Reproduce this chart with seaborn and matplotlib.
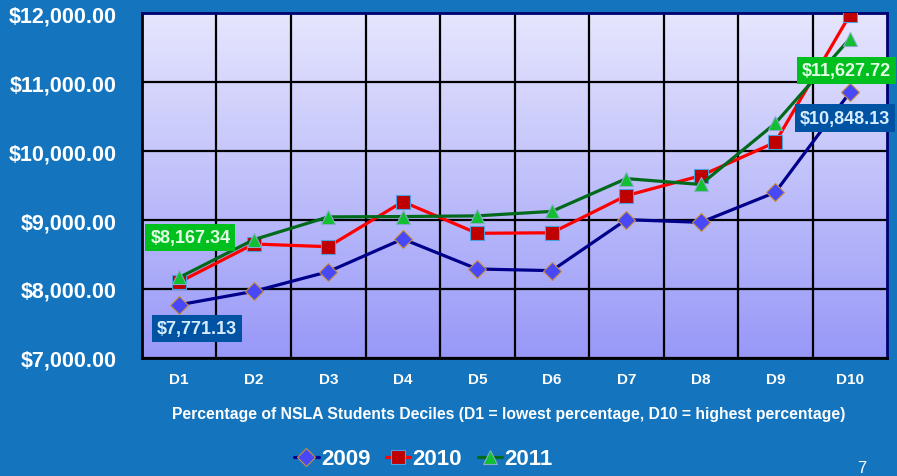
import numpy as np
import matplotlib
matplotlib.use("Agg")
import matplotlib.pyplot as plt
from matplotlib.colors import LinearSegmentedColormap
import seaborn as sns

# values
deciles = ["D1", "D2", "D3", "D4", "D5", "D6", "D7", "D8", "D9", "D10"]
y2009 = [7771.13, 7966, 8251, 8725, 8290, 8266, 9005, 8966, 9401, 10848.13]
y2010 = [8100, 8652, 8613, 9265, 8807, 8815, 9353, 9642, 10126, 11971]
y2011 = [8167.34, 8715, 9045, 9050, 9060, 9125, 9600, 9515, 10401, 11627.72]
yticks = [7000, 8000, 9000, 10000, 11000, 12000]

bg = "#1475be"

sns.set_style("white")
plt.rcParams["font.family"] = ["Liberation Sans", "DejaVu Sans"]

fig = plt.figure(figsize=(8.97, 4.77), dpi=100, facecolor=bg)
ax = fig.add_axes([0.1583, 0.2474, 0.9889 - 0.1583, 0.9706 - 0.2474])

# gradient plot area
cmap = LinearSegmentedColormap.from_list("pa", ["#9898f8", "#e6e6fe"])
grad = np.linspace(0, 1, 256).reshape(-1, 1)
ax.imshow(grad, extent=[-0.5, 9.5, 7000, 12000], origin="lower",
          aspect="auto", cmap=cmap, zorder=0)

series = [
    ("2009", y2009, "#00008b", "D", "#4848f8", "#c8903c", 9),
    ("2010", y2010, "#ff0000", "s", "#c00000", "#4aa0e0", 10),
    ("2011", y2011, "#006a1a", "^", "#10c030", "#88aacc", 10.5),
]
handles = []
for name, vals, col, mk, fc, ec, ms in series:
    sns.lineplot(x=deciles, y=vals, ax=ax, sort=False, color=col, linewidth=2.3,
                 marker=mk, markersize=ms, markerfacecolor=fc,
                 markeredgecolor=ec, markeredgewidth=0.8, zorder=3)
    ln = ax.lines[-1]
    ln.set_label(name)
    handles.append(ln)
if ax.get_legend() is not None:
    ax.get_legend().remove()

ax.set_xlim(-0.5, 9.5)
ax.set_ylim(7000, 12000)
ax.set_yticks(yticks)
ax.set_yticklabels(["${:,.2f}".format(v) for v in yticks])
ax.set_xticks(range(len(deciles)))
ax.set_xticklabels(deciles)
ax.set_xticks(np.arange(0.5, 9, 1), minor=True)
ax.set_axisbelow(True)
ax.grid(True, which="major", axis="y", color="black", linewidth=1.6)
ax.grid(True, which="minor", axis="x", color="black", linewidth=1.6)
ax.grid(False, which="major", axis="x")
ax.tick_params(axis="y", which="major", length=5, width=1.5, color="black",
               pad=13, labelsize=15.5, labelcolor="white")
ax.tick_params(axis="x", which="both", length=0, pad=10, labelsize=11,
               labelcolor="white")
for lab in ax.get_xticklabels() + ax.get_yticklabels():
    lab.set_fontweight("bold")
ax.set_xlabel("")
ax.set_ylabel("")
for side in ["left", "bottom"]:
    ax.spines[side].set_color("black")
    ax.spines[side].set_linewidth(2)
for side in ["top", "right"]:
    ax.spines[side].set_color("#000070")
    ax.spines[side].set_linewidth(2)

# data labels
labels = [
    (0, y2011[0], "${:,.2f}".format(y2011[0]), (8, 29), "#00c020", "#e4fbe4"),
    (0, y2009[0], "${:,.2f}".format(y2009[0]), (12.6, -17.3), "#0052a2", "#d6ecff"),
    (9, y2011[9], "${:,.2f}".format(y2011[9]), (-2.5, -23), "#00c020", "#e4fbe4"),
    (9, y2009[9], "${:,.2f}".format(y2009[9]), (-3.6, -18.4), "#0052a2", "#d6ecff"),
]
for xi, yv, txt, off, boxc, tc in labels:
    ax.annotate(txt, xy=(xi, yv), xytext=off, textcoords="offset points",
                ha="center", va="center", fontsize=13, fontweight="bold",
                color=tc, zorder=5, annotation_clip=False,
                bbox=dict(boxstyle="square,pad=0.28", fc=boxc, ec="none"))

fig.text(0.567, 0.130,
         "Percentage of NSLA Students Deciles (D1 = lowest percentage, D10 = highest percentage)",
         ha="center", va="center", color="white", fontsize=11.35, fontweight="bold")

leg = fig.legend(handles=handles, loc="center", bbox_to_anchor=(0.472, 0.036),
                 ncol=3, frameon=False, handlelength=1.1, handletextpad=0.1,
                 columnspacing=0.7, prop={"size": 16, "weight": "bold"})
for t in leg.get_texts():
    t.set_color("white")

fig.text(0.9606, 0.003, "7", ha="center", va="bottom", color="white", fontsize=12)

fig.savefig("out.png", dpi=100, facecolor=bg)
